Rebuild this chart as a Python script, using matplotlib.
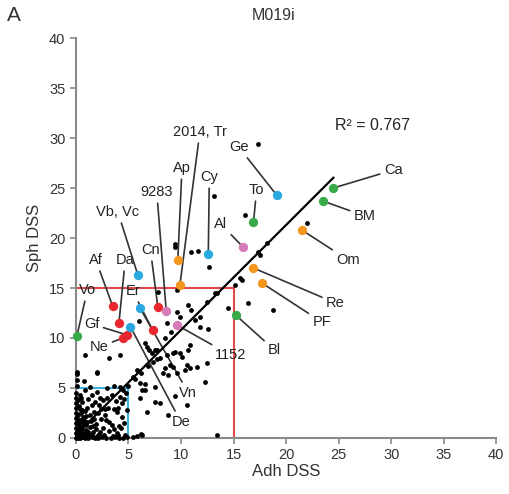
import numpy as np
import matplotlib
matplotlib.use("Agg")
from matplotlib import pyplot as plt

plt.rcParams["font.family"] = ["Liberation Sans", "DejaVu Sans"]

# background genes (black dots): Adh DSS, Sph DSS
bg_x = [0, 0.2, 0.4, 0.6, 0.9, 1.2, 1.5, 1.8, 2.1, 2.5, 2.9, 3.3, 3.7, 4.1, 4.5, 4.9, 5.4, 5.8, 6.2, 6.3,
        0, 0, 0, 0, 0, 0, 0, 0, 0, 0.1, 0.1, 0.1,
        0.3, 0.5, 0.8, 0.3, 0.6, 1.0, 0.2, 0.4, 0.7, 1.1, 1.3, 1.6, 1.9, 1.3, 0.9, 0.5, 0.3, 0.6, 1.1, 1.5,
        1.8, 1.5, 2.0, 2.3, 2.6, 2.1, 2.4, 2.9, 3.4, 2.6, 3.9, 4.7, 3.9, 4.4, 4.4, 4.2, 4.5, 4.2, 3.0, 3.4,
        3.1, 3.6, 2.8, 4.8, 4.9, 4.6, 4.1, 3.2, 2.2, 1.2, 0.8, 1.7, 0.4, 0.9, 1.3, 2.0, 0.8, 3.6, 5.0, 3.8,
        1.0, 0.5,
        0.1, 0.3, 0.2, 0.5, 0.7, 0.4, 0.1, 0.6, 0.9, 1.2, 1.4, 0.2, 0.7, 1.0, 1.6, 2.0, 2.3, 2.7, 3.5, 4.0,
        0.3, 0.6, 1.0, 1.4, 1.9, 2.4, 2.8, 3.2, 3.6, 4.3, 0.2, 0.5, 1.2, 1.7, 2.2, 3.0, 4.0, 4.6, 0.4, 1.5,
        6.1, 6.3, 7.5, 6.8, 6.1, 8.0, 5.8, 5.4, 9.4, 10.1, 10.4, 11.5, 10.6, 13.4, 8.8, 12.3, 7.5, 9.4,
        8.8, 6.6, 6.6, 0.9, 3.2, 4.2, 0.1, 2.0, 6.6, 7.0, 6.8, 8.0, 9.2, 8.5, 10.9, 12.5,
        6.9, 7.3, 7.7, 6.2, 5.6, 6.0, 7.2, 7.7, 8.7, 9.0, 8.3, 9.6, 10.6,
        9.4, 9.4, 11.0, 11.6, 12.7, 7.8, 9.6, 13.2, 12.5, 10.7, 11.0, 9.6, 9.9, 8.7, 11.8, 11.8, 12.6,
        8.5, 9.1, 10.9, 10.7, 9.2, 9.9, 7.5, 11.3, 15.8, 15.1, 15.6, 14.5, 16.4, 18.8, 17.3, 18.2, 17.5,
        22.0, 13.1, 16.1, 17.3, 13.4]
bg_y = [0, 0, 0, 0.1, 0, 0, 0.1, 0, 0, 0.1, 0, 0, 0.1, 0, 0, 0.1, 0.1, 0.2, 0.4, 0.3,
        0.5, 1.0, 1.5, 2.0, 2.5, 3.0, 3.5, 4.0, 4.5, 5.2, 5.8, 6.4,
        0.3, 0.6, 0.4, 0.9, 1.2, 0.8, 1.4, 1.8, 2.1, 1.6, 1.1, 0.6, 0.9, 2.3, 2.7, 2.5, 3.2, 3.6, 3.0, 3.3,
        3.6, 4.3, 4.6, 4.0, 3.8, 2.5, 1.9, 1.8, 1.3, 1.0, 0.5, 0.3, 2.6, 2.1, 3.5, 4.1, 4.8, 5.1, 5.0, 4.3,
        3.0, 2.9, 2.9, 4.5, 2.8, 1.5, 1.2, 0.7, 0.4, 0.3, 1.8, 1.9, 4.3, 4.8, 5.1, 6.6, 5.7, 5.2, 5.2, 3.7,
        0.1, 0.2,
        0.2, 0.1, 0.7, 0.4, 0.2, 1.1, 1.9, 0.9, 0.5, 0.6, 0.3, 2.3, 1.5, 1.3, 1.2, 0.2, 0.6, 0.3, 0.2, 0.3,
        1.6, 2.8, 2.2, 1.7, 1.4, 2.9, 2.3, 1.6, 0.9, 1.0, 3.8, 4.0, 3.9, 2.6, 3.3, 4.0, 3.0, 3.9, 2.9, 0.3,
        5.5, 4.8, 5.1, 2.6, 4.0, 3.5, 6.8, 6.1, 8.6, 8.1, 6.8, 7.1, 3.3, 0.3, 6.3, 5.6, 3.6, 4.2,
        2.3, 4.8, 5.4, 8.3, 8.0, 8.3, 6.6, 6.5, 9.5, 8.8, 9.1, 8.0, 7.1, 7.0, 7.0, 7.5,
        7.2, 7.6, 7.9, 6.5, 5.9, 11.7, 8.5, 8.8, 8.3, 7.3, 6.5, 6.5, 7.3,
        19.4, 19.1, 18.6, 18.7, 17.1, 14.6, 14.8, 14.5, 13.6, 13.3, 12.8, 12.6, 12.1, 11.5, 12.1, 11.1, 10.9,
        10.0, 10.6, 9.3, 8.8, 8.5, 8.5, 8.8, 11.8, 15.8, 15.3, 16.0, 13.0, 13.5, 12.8, 18.6, 19.5, 18.3,
        21.5, 24.2, 22.3, 29.4, 14.5]

# labelled genes
names = ["Vo", "Af", "Da", "Gf", "Ne", "Er", "Cn", "Vb, Vc", "Vn", "De", "Cy", "Ge",
         "9283", "1152", "Al", "Ap", "2014, Tr", "Om", "Re", "PF", "To", "Ca", "BM", "Bl"]
adh = [0.1, 3.5, 4.1, 4.9, 4.5, 7.3, 7.8, 5.9, 6.1, 5.2, 12.6, 19.1,
       8.6, 9.6, 15.9, 9.7, 9.9, 21.5, 16.9, 17.7, 16.9, 24.5, 23.5, 15.2]
sph = [10.2, 13.2, 11.5, 10.3, 10.0, 10.8, 13.1, 16.3, 13.0, 11.1, 18.4, 24.3,
       12.7, 11.3, 19.1, 17.8, 15.3, 20.8, 17.0, 15.5, 21.6, 25.0, 23.7, 12.3]
groups = ["g", "r", "r", "r", "r", "r", "r", "c", "c", "c", "c", "c",
          "p", "p", "p", "o", "o", "o", "o", "o", "g", "g", "g", "g"]

# label text positions (layout)
label_pos = [(1.1, 14.8), (1.9, 17.8), (4.7, 17.8), (1.5, 11.4), (2.2, 9.1), (5.4, 14.7),
             (7.1, 18.8), (4.0, 22.6), (10.7, 4.5), (10.0, 1.6), (12.7, 26.1), (15.5, 29.1),
             (7.7, 24.6), (14.7, 8.3), (13.8, 21.4), (10.1, 27.0), (11.8, 30.6), (25.9, 17.8),
             (24.7, 13.5), (23.4, 11.6), (17.2, 24.8), (30.2, 26.8), (27.5, 22.2), (18.9, 8.8)]

palette = {"g": "#3aab4a", "r": "#e8282e", "c": "#2aa9e0", "p": "#d67bb8", "o": "#f5961f"}

slope, intercept = 1.05, 0.3
fit_x = np.array([0.2, 24.5])

fig = plt.figure(figsize=(5.09, 4.94), dpi=100)
ax = fig.add_axes([0.149, 0.1134, 0.826, 0.8096])
ax.set_xlim(0, 40)
ax.set_ylim(0, 40)

# threshold boxes
ax.plot([0, 15, 15], [15, 15, 0], color="#e0484a", lw=1.5, zorder=1)
ax.plot([0, 5, 5], [5, 5, 0], color="#3ab3e0", lw=1.5, zorder=1)

ax.scatter(bg_x, bg_y, s=12, color="black", zorder=3, clip_on=False, linewidths=0)
ax.plot(fit_x, slope * fit_x + intercept, color="black", lw=1.6, zorder=4)

for n, x, y, g, (tx, ty) in zip(names, adh, sph, groups, label_pos):
    ax.annotate(n, xy=(x, y), xytext=(tx, ty), ha="center", va="center", fontsize=10.5,
                color="#222222",
                arrowprops=dict(arrowstyle="-", color="#333333", lw=1.2, shrinkA=1, shrinkB=0),
                zorder=2)
    ax.scatter([x], [y], s=45, color=palette[g], zorder=5, clip_on=False, linewidths=0)

ax.text(24.7, 31.3, "R² = 0.767", fontsize=11.5, color="#222222", va="center")

for s in ["top", "right"]:
    ax.spines[s].set_visible(False)
for s in ["left", "bottom"]:
    ax.spines[s].set_color("#8a8a8a")
    ax.spines[s].set_linewidth(1.5)
ax.set_xticks(np.arange(0, 41, 5))
ax.set_yticks(np.arange(0, 41, 5))
ax.tick_params(colors="#8a8a8a", labelcolor="#333333", labelsize=10.5, length=4, width=1.2)
ax.set_xlabel("Adh DSS", fontsize=12, color="#333333", labelpad=1)
ax.set_ylabel("Sph DSS", fontsize=12, color="#333333", labelpad=5)

fig.text(0.537, 0.968, "M019i", fontsize=11.5, color="#333333", ha="center", va="center")
fig.text(0.028, 0.968, "A", fontsize=15, color="#333333", ha="center", va="center")

fig.savefig("out.png", dpi=100)
